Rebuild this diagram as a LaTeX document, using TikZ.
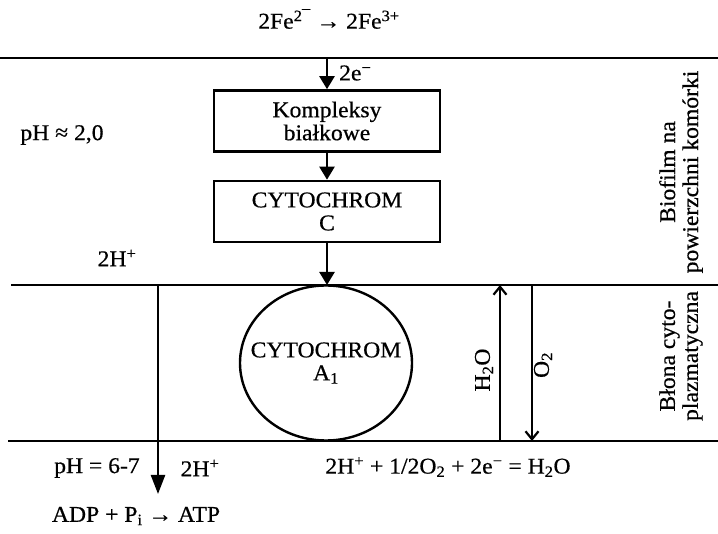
\documentclass[tikz,border=0pt]{standalone}
\usepackage{fontspec}
\setmainfont{Liberation Serif}
\newfontfamily\dfont{Liberation Serif}[FakeBold=0.6,FakeStretch=1.05]
\usetikzlibrary{arrows.meta,shapes.geometric}
\begin{document}
\begin{tikzpicture}[x=1pt,y=-1pt,
  every node/.style={font=\dfont\fontsize{22.5}{24}\selectfont, inner sep=0pt},
  rule/.style={line width=2.6pt},
  boxnode/.style={draw, line width=2.6pt, minimum width=226pt, minimum height=61pt, align=center, inner sep=2pt},
  fillarrow/.style={line width=2.4pt, -{Triangle[length=13pt,width=15pt]}},
  longarrow/.style={line width=2.4pt, -{Triangle[length=19pt,width=14pt]}},
  openarrow/.style={line width=2.2pt, -{Straight Barb[length=8pt,width=13pt]}},
  lbl/.style={align=center}]
\useasboundingbox (0,0) rectangle (718,534);
% membranes
\coordinate (t1) at (0,58); \coordinate (t2) at (718,58);
\coordinate (m1) at (11,285); \coordinate (m2) at (718,285);
\coordinate (b1) at (8,441); \coordinate (b2) at (718,441);
\draw[rule] (t1) -- (t2);
\draw[rule] (m1) -- (m2);
\draw[rule] (b1) -- (b2);
% top reaction
\node (fe) at (329,19) {2Fe\textsuperscript{2¯} → 2Fe\textsuperscript{3+}};
% boxes
\node[boxnode] (k) at (327,121) {Kompleksy\\[-1pt]białkowe};
\node[boxnode] (c) at (327,211.5) {CYTOCHROM\\[-1pt]C};
\node[draw, ellipse, line width=2.4pt, minimum width=172pt, minimum height=155pt] (a) at (326,363) {};
\node[align=center] (at) at (a.center) {CYTOCHROM\\[-1pt]A\textsubscript{1}};
\coordinate (e0) at (327,58);
\coordinate (c0) at (327,285);
\draw[fillarrow] (e0) -- (k.north);
\node[anchor=west] (e2) at (339,73) {2e\textsuperscript{−}};
\draw[fillarrow] (k.south) -- (c.north);
\draw[fillarrow] (c.south) -- (c0);
% left labels
\node (ph1) at (62,135) {pH ≈ 2,0};
\node (h1) at (117,258) {2H\textsuperscript{+}};
\coordinate (p0) at (158,285); \coordinate (p1) at (158,494);
\draw[longarrow] (p0) -- (p1);
\node (ph2) at (97,468) {pH = 6-7};
\node (h2) at (200,468) {2H\textsuperscript{+}};
\node (adp) at (136,516) {ADP + P\textsubscript{i} → ATP};
\node (rx) at (448,467) {2H\textsuperscript{+} + 1/2O\textsubscript{2} + 2e\textsuperscript{−} = H\textsubscript{2}O};
% water/oxygen
\coordinate (w0) at (500,441); \coordinate (w1) at (500,285);
\coordinate (o0) at (532,285); \coordinate (o1) at (532,441);
\draw[openarrow] (w0) -- (w1);
\draw[openarrow] (o0) -- (o1);
\node[rotate=90] (wl) at (484,370) {H\textsubscript{2}O};
\node[rotate=90] (ol) at (543,365) {O\textsubscript{2}};
% side labels
\node[rotate=90, lbl] (bio) at (681,172) {Biofilm na\\[-1pt]powierzchni komórki};
\node[rotate=90, lbl] (blo) at (681,356) {Błona cyto-\\[-1pt]plazmatyczna};
\end{tikzpicture}
\end{document}
